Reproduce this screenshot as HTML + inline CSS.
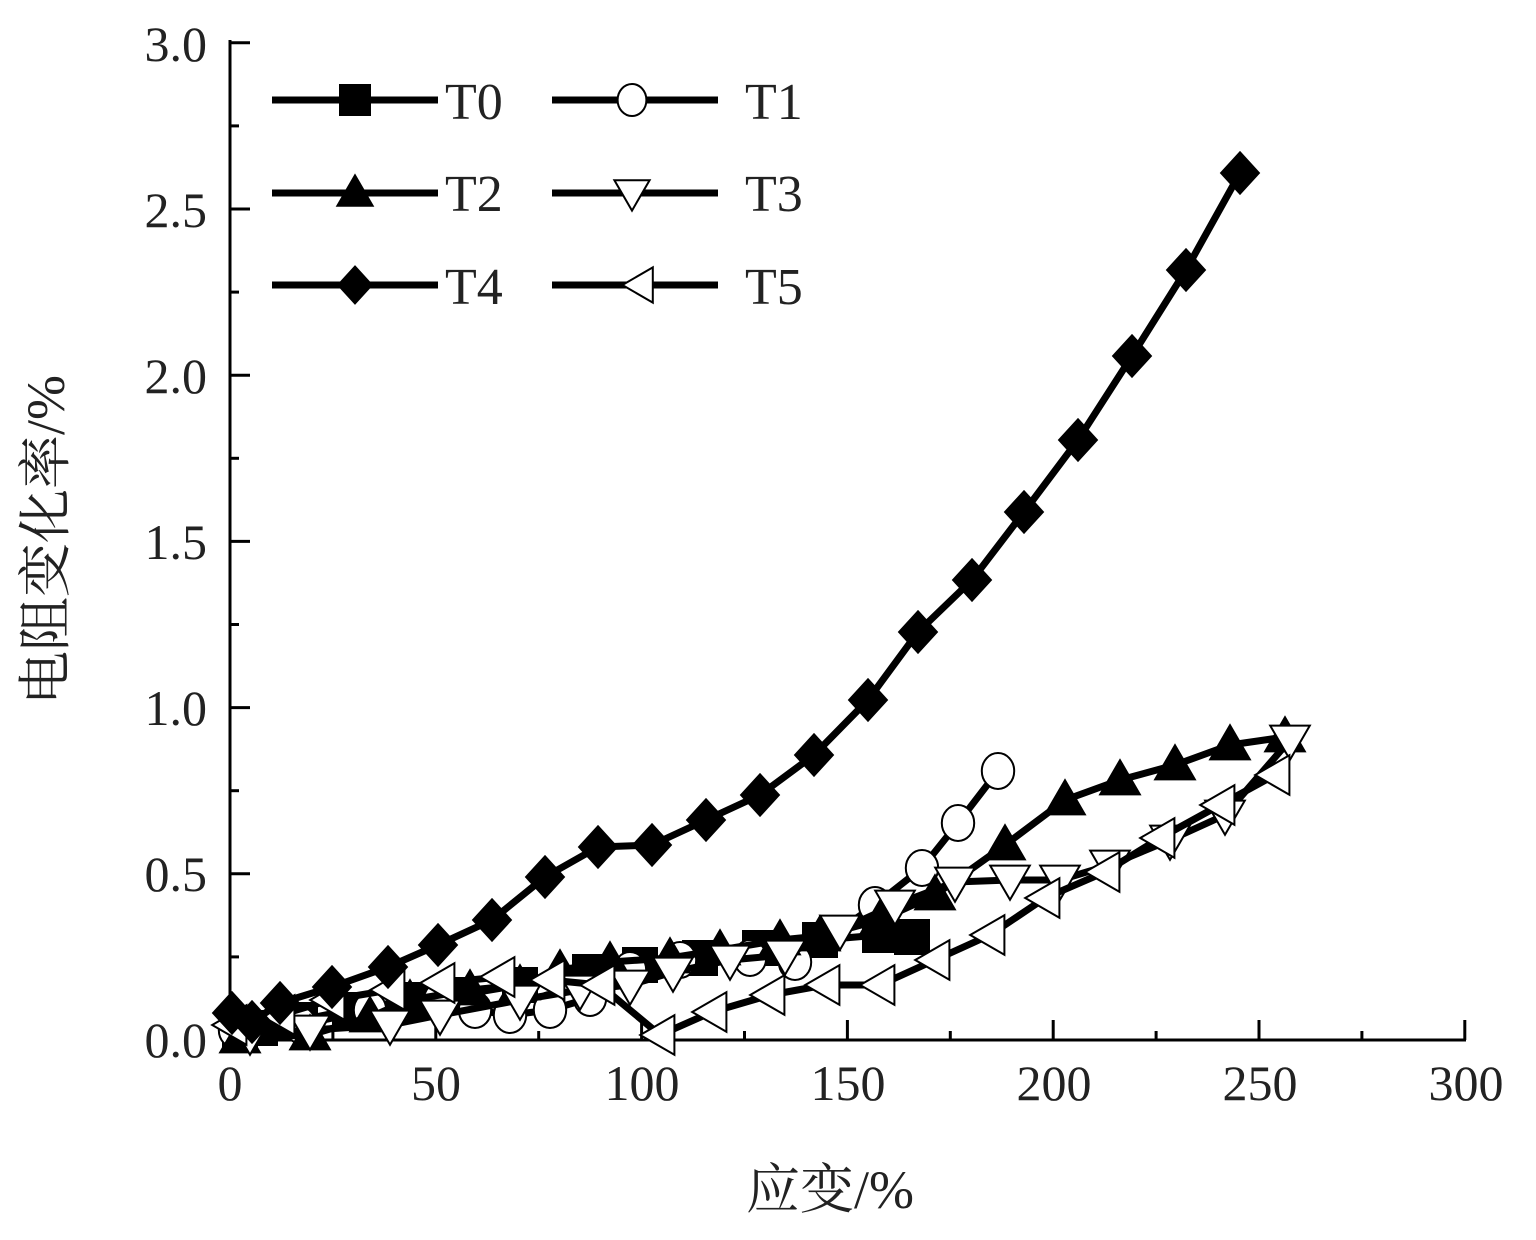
<!DOCTYPE html>
<html><head><meta charset="utf-8"><style>html,body{margin:0;padding:0;background:#fff}svg{display:block}</style></head>
<body>
<svg id="s" width="1536" height="1240" xmlns="http://www.w3.org/2000/svg" font-family="'Liberation Serif','Noto Serif CJK SC',serif" fill="#222">
<g stroke="#000" stroke-width="3" fill="none">
<line x1="230" y1="40" x2="230" y2="1041"/>
<line x1="229" y1="1040" x2="1466" y2="1040"/>
</g>
<g id="ticks" stroke="#000" stroke-width="3"></g>
<g font-size="50" text-anchor="end">
<text x="207" y="1057">0.0</text><text x="207" y="891">0.5</text><text x="207" y="725">1.0</text><text x="207" y="559">1.5</text><text x="207" y="393">2.0</text><text x="207" y="227">2.5</text><text x="207" y="61">3.0</text>
</g>
<g font-size="50" text-anchor="middle">
<text x="230" y="1100">0</text><text x="436" y="1100">50</text><text x="642" y="1100">100</text><text x="848" y="1100">150</text><text x="1054" y="1100">200</text><text x="1260" y="1100">250</text><text x="1466" y="1100">300</text>
</g>
<text x="830" y="1208" font-size="54" text-anchor="middle">应变/%</text>
<text transform="translate(64,540) rotate(-90)" font-size="54" text-anchor="middle">电阻变化率/%</text>
<g id="plot"></g>
<g font-size="52">
<text x="445" y="119">T0</text><text x="745" y="119">T1</text>
<text x="445" y="211">T2</text><text x="745" y="211">T3</text>
<text x="445" y="304">T4</text><text x="745" y="304">T5</text>
</g>
</svg>
<script>
const NS="http://www.w3.org/2000/svg";
const t=document.getElementById('ticks');
function ln(g,a,b,c,d){const l=document.createElementNS(NS,'line');l.setAttribute('x1',a);l.setAttribute('y1',b);l.setAttribute('x2',c);l.setAttribute('y2',d);g.appendChild(l);}
for(let i=0;i<=12;i++){const x=230+i*102.9;ln(t,x,1040,x,i%2?1031:1020);}
for(let i=0;i<=12;i++){const y=1040-i*83.1;ln(t,230,y,i%2?239:250,y);}
const p=document.getElementById('plot');
function marker(g,type,x,y,s){let e;
 if(type=='sq'){e=document.createElementNS(NS,'rect');e.setAttribute('x',x-s/2);e.setAttribute('y',y-s/2);e.setAttribute('width',s);e.setAttribute('height',s);e.setAttribute('fill','#000');}
 else if(type=='ci'){e=document.createElementNS(NS,'ellipse');e.setAttribute('cx',x);e.setAttribute('cy',y);e.setAttribute('rx',s*0.45);e.setAttribute('ry',s*0.5);e.setAttribute('fill','#fff');e.setAttribute('stroke','#000');e.setAttribute('stroke-width',2);}
 else{e=document.createElementNS(NS,'polygon');let h=s/2,pts;
  if(type=='up')pts=[[x,y-h*1.1],[x+h*1.1,y+h*0.8],[x-h*1.1,y+h*0.8]];
  if(type=='dn')pts=[[x,y+h*1.1],[x+h*1.1,y-h*0.8],[x-h*1.1,y-h*0.8]];
  if(type=='lt')pts=[[x-h*1.1,y],[x+h*0.8,y-h*1.1],[x+h*0.8,y+h*1.1]];
  if(type=='di')pts=[[x,y-h*1.15],[x+h*1.05,y],[x,y+h*1.15],[x-h*1.05,y]];
  e.setAttribute('points',pts.map(q=>q.join(',')).join(' '));
  const filled=(type=='up'||type=='di');
  e.setAttribute('fill',filled?'#000':'#fff');e.setAttribute('stroke','#000');e.setAttribute('stroke-width',2);}
 g.appendChild(e);}
function series(pts,type){const pl=document.createElementNS(NS,'polyline');pl.setAttribute('points',pts.map(q=>q.join(',')).join(' '));pl.setAttribute('fill','none');pl.setAttribute('stroke','#000');pl.setAttribute('stroke-width',7);pl.setAttribute('stroke-linejoin','round');p.appendChild(pl);pts.forEach(q=>marker(p,type,q[0],q[1],36));}
const T0=[[240,1035],[260,1028],[300,1020],[350,1010],[410,1000],[460,995],[520,985],[590,972],[640,965],[700,958],[760,948],[820,940],[880,935],[912,937]];
const T1=[[235,1030],[300,1025],[370,1010],[440,1000],[475,1010],[510,1015],[550,1010],[590,998],[630,970],[680,960],[750,958],[795,962],[875,905],[922,868],[958,823],[998,771]];
const T2=[[240,1038],[310,1035],[370,1017],[410,1000],[470,990],[520,985],[560,970],[610,962],[670,958],[720,950],[780,940],[820,936],[880,920],[935,895],[1005,845],[1065,800],[1120,780],[1175,765],[1230,745],[1285,737]];
const T3=[[250,1035],[310,1030],[390,1025],[440,1015],[520,1000],[580,990],[630,985],[673,972],[730,960],[785,955],[840,930],[895,905],[955,882],[1010,880],[1060,880],[1110,865],[1170,840],[1225,815],[1290,740]];
const T5=[[232,1025],[280,1015],[330,1000],[390,990],[440,983],[500,977],[550,980],[600,985],[660,1035],[712,1012],[770,995],[825,985],[880,985],[935,960],[990,935],[1045,898],[1105,872],[1160,838],[1220,805],[1275,775]];
const T4=[[232,1013],[252,1022],[280,1003],[332,987],[388,967],[438,945],[492,920],[545,877],[598,847],[652,845],[706,820],[760,795],[814,755],[868,700],[918,632],[972,580],[1024,512],[1078,440],[1132,356],[1186,270],[1240,173]];
series(T0,'sq');series(T1,'ci');series(T2,'up');series(T3,'dn');series(T5,'lt');series(T4,'di');
const lg=[[272,100,'sq'],[552,100,'ci'],[272,193,'up'],[552,193,'dn'],[272,285,'di'],[552,285,'lt']];
lg.forEach(([x,y,ty])=>{const l=document.createElementNS(NS,'line');l.setAttribute('x1',x);l.setAttribute('y1',y);l.setAttribute('x2',x+166);l.setAttribute('y2',y);l.setAttribute('stroke','#000');l.setAttribute('stroke-width',7);p.appendChild(l);marker(p,ty,x+(ty=='lt'?88:(ty=='ci'||ty=='dn'?80:83)),y,32);});
</script>
</body></html>
